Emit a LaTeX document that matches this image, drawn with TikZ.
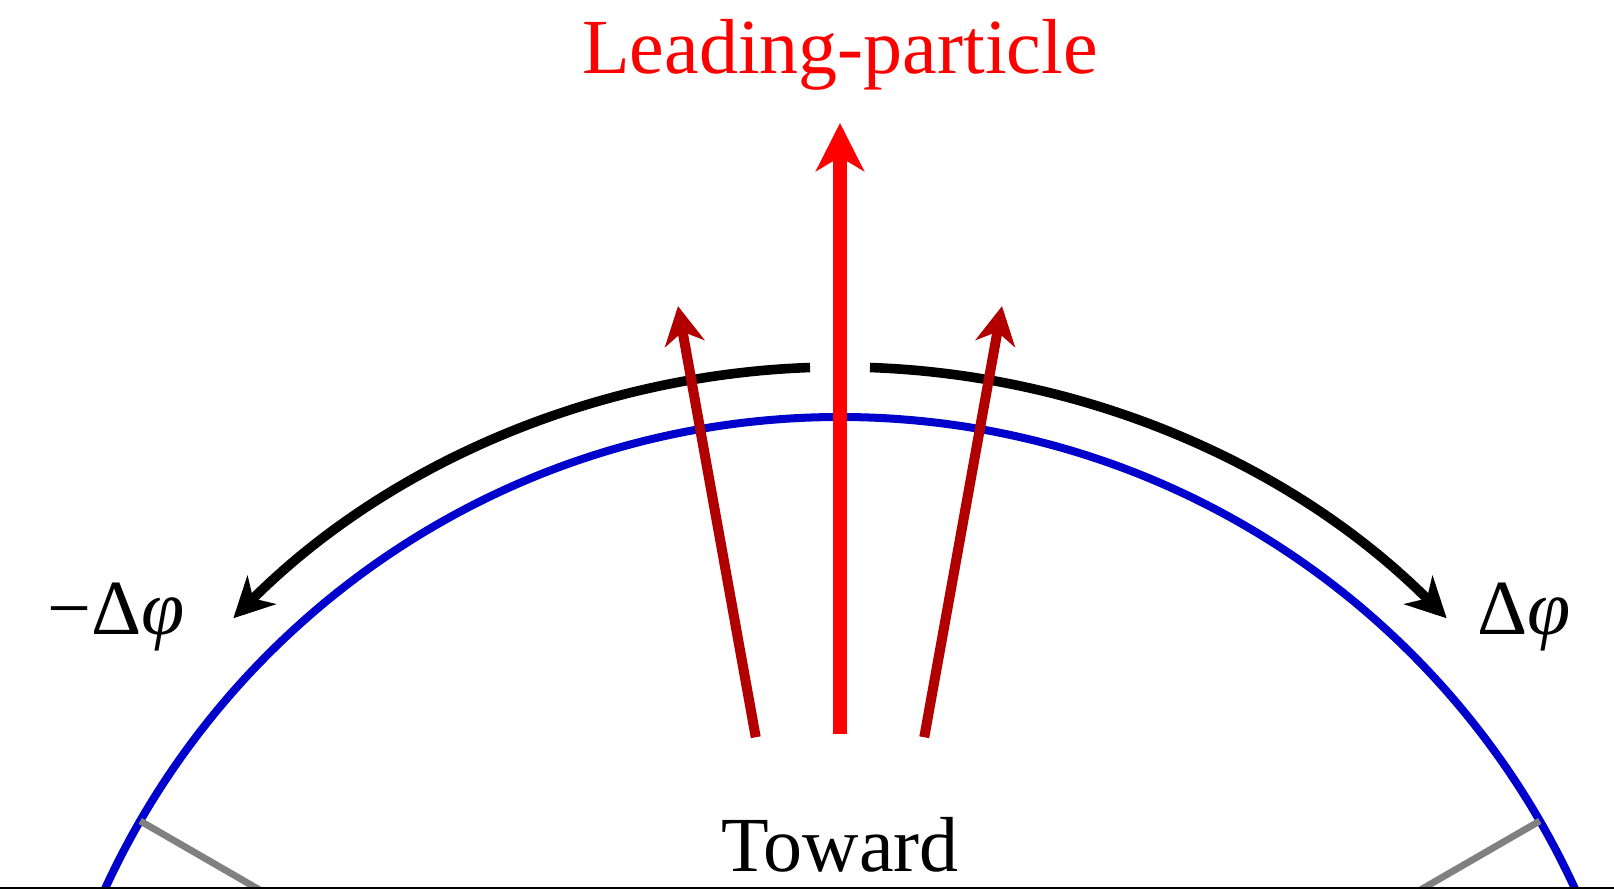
\documentclass[tikz,border=0pt]{standalone}
\usepackage{fontspec}
\setmainfont{Liberation Serif}
\usetikzlibrary{arrows.meta}
\definecolor{ringblue}{RGB}{0,0,204}
\definecolor{darkarrow}{RGB}{178,0,0}
\definecolor{spoke}{RGB}{128,128,128}
\begin{document}
\begin{tikzpicture}[x=0.5pt,y=0.5pt,
  ring/.style={draw=ringblue, line width=4pt},
  spokeline/.style={draw=spoke, line width=3.4pt},
  sidearc/.style={draw=black, line width=4.8pt, -{Stealth[length=20pt,width=20pt,inset=6pt]}},
  leadarrow/.style={draw=red, line width=7.4pt, -{Stealth[length=24pt,width=24pt,inset=7pt]}},
  assoc/.style={draw=darkarrow, line width=5pt, -{Stealth[length=19pt,width=20pt,inset=6pt]}},
  lbl/.style={inner sep=0pt, font=\fontsize{39pt}{47pt}\selectfont}]
\useasboundingbox (0,0) rectangle (1614,889);
\begin{scope}
\clip (0,0) rectangle (1614,889);
\begin{scope}[shift={(840,-336)}]
  \coordinate (C) at (0,0);
  \draw[ring] (C) circle[radius=404pt];
  % spokes
  \coordinate (sL1) at (150:808);
  \coordinate (sL2) at (150:450);
  \coordinate (sR1) at (30:808);
  \coordinate (sR2) at (30:450);
  \draw[spokeline] (sL1) -- (sL2);
  \draw[spokeline] (sR1) -- (sR2);
  % side arcs
  \coordinate (aL) at (92:858);
  \coordinate (aR) at (88:858);
  \draw[sidearc] (aL) arc[start angle=92, end angle=135, radius=429pt];
  \draw[sidearc] (aR) arc[start angle=88, end angle=45, radius=429pt];
  % arrows
  \coordinate (m0) at (90:491);
  \coordinate (m1) at (90:1102);
  \draw[leadarrow] (m0) -- (m1);
  \coordinate (l0) at (99.8:495);
  \coordinate (l1) at (100.0:933);
  \coordinate (r0) at (80.2:495);
  \coordinate (r1) at (80.0:933);
  \draw[assoc] (l0) -- (l1);
  \draw[assoc] (r0) -- (r1);
\end{scope}
\coordinate (b0) at (0,0.8);
\coordinate (b1) at (1614,0.8);
\draw[line width=0.8pt] (b0) -- (b1);
\end{scope}
\node[lbl, text=red, anchor=base] (lead) at (840,815) {Leading-particle};
\node[lbl, anchor=base] (toward) at (840,17) {Toward};
\node[lbl, anchor=base west] (dphiR) at (1477,254) {Δ\textit{φ}};
\node[lbl, anchor=base west] (dphiL) at (47,254) {−Δ\textit{φ}};
\end{tikzpicture}
\end{document}
